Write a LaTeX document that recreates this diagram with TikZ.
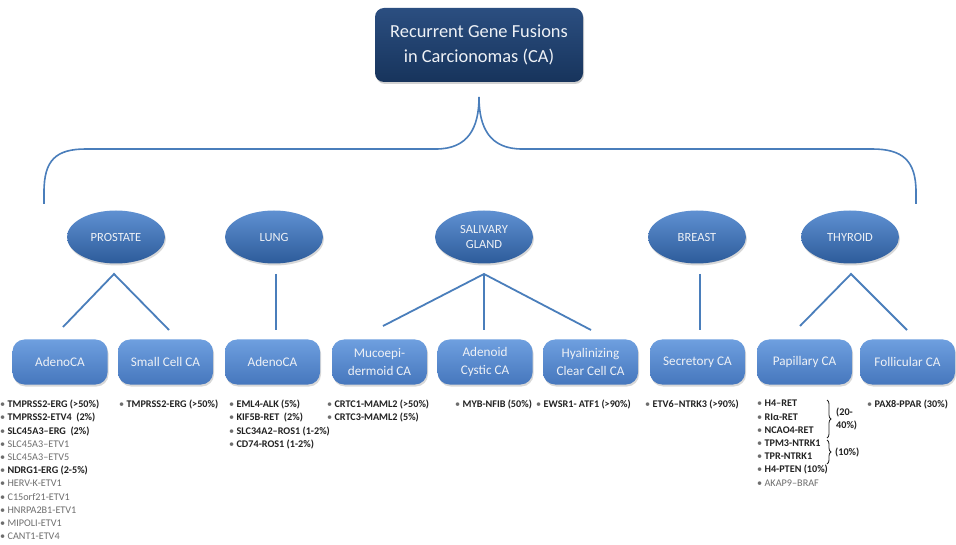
\documentclass[tikz,border=0pt]{standalone}
\usepackage{fontspec}
\setmainfont{Carlito}
\usetikzlibrary{shapes.geometric,shadows,decorations.pathreplacing}
\definecolor{navytop}{HTML}{2B4E80}
\definecolor{navybot}{HTML}{17345C}
\definecolor{elltop}{HTML}{5F91D2}
\definecolor{ellbot}{HTML}{2D5B9A}
\definecolor{boxtop}{HTML}{6E9FDF}
\definecolor{boxbot}{HTML}{4677BD}
\definecolor{linec}{HTML}{4A7EBB}
\definecolor{darktxt}{HTML}{222222}
\definecolor{graytxt}{HTML}{6E6E6E}
\definecolor{lighttxt}{HTML}{EEF1F6}
\newcommand{\bitem}[1]{{\color{graytxt}\textbullet}~\textbf{#1}}
\newcommand{\gitem}[1]{{\color{graytxt}\textbullet~#1}}
\begin{document}
\begin{tikzpicture}[x=1pt,y=-1pt,
  titlebox/.style={rectangle, rounded corners=9pt, minimum width=208pt, minimum height=74pt, inner sep=0pt,
    top color=navytop, bottom color=navybot, text=lighttxt, align=center,
    font=\fontsize{18.4}{25}\selectfont, drop shadow={opacity=0.35, shadow xshift=1pt, shadow yshift=-2pt}},
  organ/.style={ellipse, minimum width=98pt, minimum height=53pt, inner sep=0pt,
    top color=elltop, bottom color=ellbot, text=lighttxt, align=center,
    font=\fontsize{12.5}{15}\selectfont, drop shadow={opacity=0.3, shadow xshift=1pt, shadow yshift=-2pt}},
  subbox/.style={rectangle, rounded corners=12pt, minimum width=95pt, minimum height=45pt, inner sep=0pt,
    top color=boxtop, bottom color=boxbot, text=lighttxt, align=center,
    font=\fontsize{13.2}{18}\selectfont, drop shadow={opacity=0.3, shadow xshift=1pt, shadow yshift=-2pt}},
  conn/.style={draw=linec, line width=1.8pt},
  listtxt/.style={anchor=north west, inner sep=0pt, align=left, text=darktxt,
    font=\fontsize{10.2}{13.2}\selectfont}
]
\useasboundingbox[fill=white] (0,0) rectangle (956,545);

% title
\node[titlebox] (title) at (479,45) {Recurrent Gene Fusions\\in Carcionomas (CA)};

% brace
\coordinate (cusp) at (479,97);
\coordinate (bl) at (44,204);
\coordinate (br) at (916,204);
\draw[conn, line width=1.6pt] (bl) -- (44,192) .. controls (44,160) and (56,149) .. (86,149) -- (436,149)
  .. controls (468,149) and (479,128) .. (cusp)
  .. controls (479,128) and (490,149) .. (522,149) -- (872,149)
  .. controls (902,149) and (916,160) .. (916,192) -- (br);

% organs
\node[organ] (prostate) at (116,237) {PROSTATE};
\node[organ] (lung) at (274,237) {LUNG};
\node[organ] (salivary) at (484,237) {SALIVARY\\GLAND};
\node[organ] (breast) at (697,237) {BREAST};
\node[organ] (thyroid) at (850,237) {THYROID};

% subtypes
\node[subbox] (padeno) at (60,362) {AdenoCA};
\node[subbox] (psmall) at (165.5,362) {Small Cell CA};
\node[subbox] (ladeno) at (272.5,362) {AdenoCA};
\node[subbox] (smuco) at (379.5,362) {Mucoepi-\\dermoid CA};
\node[subbox] (sadeno) at (485,362) {Adenoid\\Cystic CA};
\node[subbox] (shyal) at (590.5,362) {Hyalinizing\\Clear Cell CA};
\node[subbox] (bsecr) at (697.5,362) {Secretory CA};
\node[subbox] (tpap) at (804.5,362) {Papillary CA};
\node[subbox] (tfol) at (907.5,362) {Follicular CA};

% connectors
\coordinate (pa) at (114,274);
\coordinate (pa1) at (63,327);
\coordinate (pa2) at (169,330);
\draw[conn] (pa1) -- (pa) -- (pa2);
\coordinate (la) at (276,274);
\coordinate (la1) at (276,330);
\draw[conn] (la) -- (la1);
\coordinate (sa) at (484,274);
\coordinate (sa1) at (383,326);
\coordinate (sa2) at (484,330);
\coordinate (sa3) at (591,330);
\draw[conn] (sa1) -- (sa) -- (sa3);
\draw[conn] (sa) -- (sa2);
\coordinate (ba) at (700,274);
\coordinate (ba1) at (700,330);
\draw[conn] (ba) -- (ba1);
\coordinate (ta) at (851,274);
\coordinate (ta1) at (800,326);
\coordinate (ta2) at (907,330);
\draw[conn] (ta1) -- (ta) -- (ta2);

% lists
\node[listtxt] (l1) at (0,400) {\bitem{TMPRSS2-ERG\ (>50\%)}\\\bitem{TMPRSS2-ETV4\ \ (2\%)}\\\bitem{SLC45A3–ERG\ \ (2\%)}\\\gitem{SLC45A3–ETV1}\\\gitem{SLC45A3–ETV5}\\\bitem{NDRG1-ERG (2-5\%)}\\\gitem{HERV-K-ETV1}\\\gitem{C15orf21-ETV1}\\\gitem{HNRPA2B1-ETV1}\\\gitem{MIPOLI-ETV1}\\\gitem{CANT1-ETV4}};
\node[listtxt] (l2) at (119,400) {\bitem{TMPRSS2-ERG (>50\%)}};
\node[listtxt] (l3) at (229,400) {\bitem{EML4-ALK (5\%)}\\\bitem{KIF5B-RET\ \ (2\%)}\\\bitem{SLC34A2–ROS1 (1-2\%)}\\\bitem{CD74-ROS1 (1-2\%)}};
\node[listtxt] (l4) at (327,400) {\bitem{CRTC1-MAML2 (>50\%)}\\\bitem{CRTC3-MAML2 (5\%)}};
\node[listtxt] (l5) at (455,400) {\bitem{MYB-NFIB (50\%)}};
\node[listtxt] (l6) at (536,400) {\bitem{EWSR1- ATF1 (>90\%)}};
\node[listtxt] (l7) at (645,400) {\bitem{ETV6–NTRK3 (>90\%)}};
\node[listtxt] (l8) at (757,400) {\bitem{H4–RET}\\\bitem{RIα-RET}\\\bitem{NCAO4-RET}\\\bitem{TPM3-NTRK1}\\\bitem{TPR-NTRK1}\\\bitem{H4-PTEN (10\%)}\\\gitem{AKAP9–BRAF}};
\node[listtxt] (l9) at (867,400) {\bitem{PAX8-PPAR (30\%)}};

% thyroid braces
\coordinate (b1s) at (827,400);
\coordinate (b1e) at (827,438);
\coordinate (b2s) at (827,440);
\coordinate (b2e) at (827,464);
\draw[darktxt, line width=0.8pt, decorate, decoration={brace, amplitude=4pt}] (b1s) -- (b1e);
\draw[darktxt, line width=0.8pt, decorate, decoration={brace, amplitude=4pt}] (b2s) -- (b2e);
\node[listtxt, anchor=west] (p1) at (836,419) {\textbf{(20-}\\\textbf{40\%)}};
\node[listtxt, anchor=west] (p2) at (835,452) {\textbf{(10\%)}};
\end{tikzpicture}
\end{document}
